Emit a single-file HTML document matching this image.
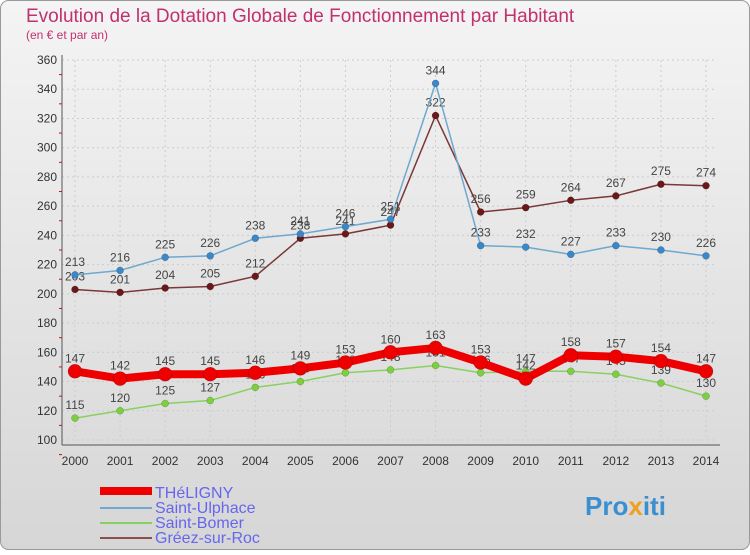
<!DOCTYPE html>
<html><head><meta charset="utf-8"><style>
body{margin:0;width:750px;height:550px;overflow:hidden;font-family:"Liberation Sans",sans-serif}
</style></head><body>
<svg width="750" height="550" xmlns="http://www.w3.org/2000/svg">
<defs>
<linearGradient id="bg" x1="0" y1="0" x2="0" y2="1"><stop offset="0" stop-color="#f4f4f4"/><stop offset="1" stop-color="#d6d6d6"/></linearGradient>
</defs>
<rect x="0.5" y="0.5" width="749" height="549" rx="8" fill="url(#bg)" stroke="#999"/>
<text x="26" y="22" font-size="19" fill="#c2306e">Evolution de la Dotation Globale de Fonctionnement par Habitant</text>
<text x="26" y="39" font-size="12" fill="#c2306e">(en € et par an)</text>
<g id="axes"></g>
<g id="series"></g>
<g>
<rect x="100" y="487" width="52" height="8" fill="#e00"/>
<text x="155" y="498" font-size="16" fill="#6666ee">THéLIGNY</text>
<rect x="100" y="507" width="52" height="2" fill="#6fa8d0"/>
<text x="155" y="513" font-size="16" fill="#6666ee">Saint-Ulphace</text>
<rect x="100" y="522" width="52" height="2" fill="#8ad060"/>
<text x="155" y="528" font-size="16" fill="#6666ee">Saint-Bomer</text>
<rect x="100" y="537" width="52" height="2" fill="#8a5050"/>
<text x="155" y="543" font-size="16" fill="#6666ee">Gréez-sur-Roc</text>
</g>
<text x="585" y="515" font-size="26" font-weight="bold" fill="#3a8fd0">Pro<tspan fill="#f0a020">x</tspan>iti</text>
</svg>
<script>
const years=["2000","2001","2002","2003","2004","2005","2006","2007","2008","2009","2010","2011","2012","2013","2014"];
const yTicks=[100,120,140,160,180,200,220,240,260,280,300,320,340,360];
const theligny=[147,142,145,145,146,149,153,160,163,153,142,158,157,154,147];
const ulphace=[213,216,225,226,238,241,246,251,344,233,232,227,233,230,226];
const bomer=[115,120,125,127,136,140,146,148,151,146,147,147,145,139,130];
const greez=[203,201,204,205,212,238,241,247,322,256,259,264,267,275,274];
const NS="http://www.w3.org/2000/svg";
const x=i=>75+i*(706-75)/(years.length-1);
const y=v=>440-(v-100)*(380/260);
function mk(t,a,p){const e=document.createElementNS(NS,t);for(const k in a)e.setAttribute(k,a[k]);p.appendChild(e);return e;}
const ax=document.getElementById('axes');
yTicks.forEach(v=>{
  const l=mk('line',{x1:62,x2:717,y1:y(v),y2:y(v),stroke:'#ccc','stroke-dasharray':'2,3'},ax);
  
  
  const t=mk('text',{x:57,y:y(v)+4,'font-size':12,fill:'#333','text-anchor':'end'},ax);
  t.textContent=v;
  
  
  const m=mk('line',{x1:59,x2:62,y1:y(v)+14.6,y2:y(v)+14.6,stroke:'#e00'},ax);
  
  
});
years.forEach((yr,i)=>{
  const g=mk('line',{x1:x(i),x2:x(i),y1:60,y2:440,stroke:'#ccc','stroke-dasharray':'2,3'},ax);
  
  
  const t=mk('text',{x:x(i),y:465,'font-size':12,fill:'#333','text-anchor':'middle'},ax);
  t.textContent=yr;
  
  
});
const a1=mk('line',{x1:62,x2:62,y1:55,y2:445,stroke:'#555'},ax);


const a2=mk('line',{x1:62,x2:720,y1:445,y2:445,stroke:'#555'},ax);


const sg=document.getElementById('series');
function series(vals,name,color,dot,w,r){
  const g=mk('g',{},sg);
  
  
  const p=mk('polyline',{points:vals.map((v,i)=>x(i)+','+y(v)).join(' '),fill:'none',stroke:color,'stroke-width':w,'stroke-linejoin':'round'},g);
  
  
  vals.forEach((v,i)=>{
    const c=mk('circle',{cx:x(i),cy:y(v),r:r,fill:dot,stroke:'rgba(0,0,0,0.3)','stroke-width':0.5},g);
    
    
    const t=mk('text',{x:x(i),y:y(v)-9,'font-size':12,fill:'#444','text-anchor':'middle'},g);
    t.textContent=v;
    
    
  });
}
series(bomer,'saint-bomer','#8ad060','#7cd040',1.5,3.5);
series(greez,'greez-sur-roc','#7a3838','#6a1818',1.5,3.5);
series(ulphace,'saint-ulphace','#6fa8d0','#3a88c8',1.5,3.5);
series(theligny,'theligny','#ee0000','#ee0000',8,7);
</script>
</body></html>
